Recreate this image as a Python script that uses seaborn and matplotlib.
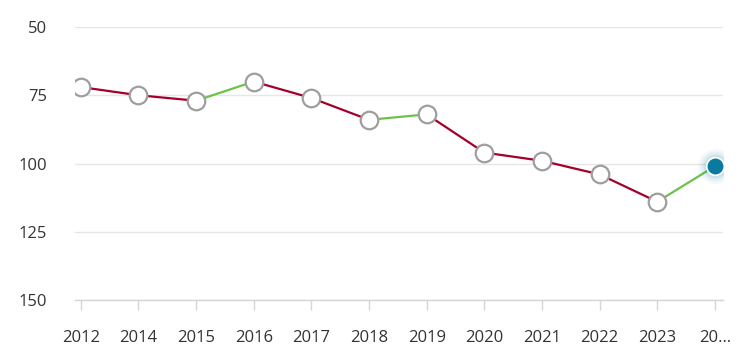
import matplotlib
matplotlib.use("Agg")
import matplotlib.pyplot as plt
import seaborn as sns
import pandas as pd

# --- data ---
years = ["2012", "2014", "2015", "2016", "2017", "2018", "2019",
         "2020", "2021", "2022", "2023", "20…"]
rank = [72, 75, 77, 70, 76, 84, 82, 96, 99, 104, 114, 101]

RED = "#a3002b"
GREEN = "#6cc24a"
BLUE = "#0a7aa0"

sns.set_style("white")
plt.rcParams['font.family'] = ['Open Sans', 'DejaVu Sans']

fig = plt.figure(figsize=(7.51, 3.59), dpi=100)
ax = fig.add_axes([0.0999, 0.1643, 0.8628, 0.7605])

pos = list(range(len(years)))
df = pd.DataFrame({"pos": pos, "rank": rank})

# segments: green when rank improves (value drops), red otherwise
for i in range(len(df) - 1):
    seg = df.iloc[i:i + 2]
    col = GREEN if rank[i + 1] < rank[i] else RED
    sns.lineplot(data=seg, x="pos", y="rank", color=col, linewidth=1.6,
                 ax=ax, zorder=3)

# hollow markers for all but the latest
sns.scatterplot(data=df.iloc[:-1], x="pos", y="rank", s=160, color="white",
                edgecolor="#9e9e9e", linewidth=1.6, ax=ax, zorder=4)

# latest point with glow
last = df.iloc[[-1]]
for s, a in [(650, 0.04), (460, 0.07), (300, 0.11)]:
    sns.scatterplot(data=last, x="pos", y="rank", s=s, color=BLUE, alpha=a,
                    linewidth=0, ax=ax, zorder=4)
sns.scatterplot(data=last, x="pos", y="rank", s=160, color=BLUE,
                edgecolor="white", linewidth=1.2, ax=ax, zorder=5)

ax.set_ylim(150, 50)
ax.set_xlim(-0.1, len(years) - 1 + 0.14)
ax.set_yticks([50, 75, 100, 125, 150])
ax.set_xticks(pos)
ax.set_xticklabels(years)
ax.set_xlabel("")
ax.set_ylabel("")

ax.grid(axis="y", color="#e6e6e6", linewidth=1)
ax.set_axisbelow(True)
for side in ["top", "right", "left"]:
    ax.spines[side].set_visible(False)
ax.spines["bottom"].set_color("#d6d6d6")
ax.spines["bottom"].set_linewidth(1)

ax.tick_params(axis="x", bottom=True, length=7.5, width=1, color="#d6d6d6",
               pad=14, labelsize=12, labelcolor="#333333")
ax.tick_params(axis="y", left=False, length=0, pad=20, labelsize=12,
               labelcolor="#333333")

fig.savefig("out.png", dpi=100)
